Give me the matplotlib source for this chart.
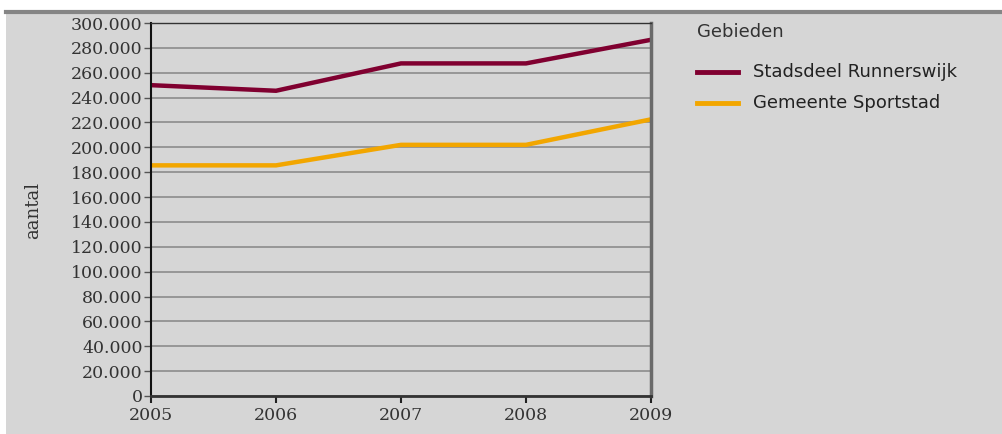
import matplotlib.pyplot as plt
from matplotlib.patches import Rectangle
from matplotlib.lines import Line2D
from matplotlib.ticker import FuncFormatter

# Data
years = [2005, 2006, 2007, 2008, 2009]
runnerswijk = [250000, 245500, 267500, 267500, 286500]
sportstad = [185500, 185500, 202000, 202000, 222500]
labels = ['Stadsdeel Runnerswijk', 'Gemeente Sportstad']
colors = ['#800030', '#F2A600']

W, H = 1002, 434
fig = plt.figure(figsize=(W / 100, H / 100), dpi=100, facecolor='white')

# gray panel behind everything
fig.add_artist(Rectangle((6 / W, 0), 1 - 6 / W, 1 - 11 / H,
                         transform=fig.transFigure, facecolor='#D6D6D6',
                         edgecolor='none', zorder=-10))
fig.add_artist(Line2D([6 / W, 1], [1 - 12 / H, 1 - 12 / H],
                      transform=fig.transFigure, color='#858585', lw=3, zorder=-9))

ax = fig.add_axes([151 / W, 38 / H, 500 / W, 373 / H])
ax.set_facecolor('#D6D6D6')

ax.plot(years, runnerswijk, color=colors[0], lw=3.2, solid_joinstyle='miter')
ax.plot(years, sportstad, color=colors[1], lw=3.2, solid_joinstyle='miter')

ax.set_xlim(2005, 2009)
ax.set_ylim(0, 300000)
ax.set_xticks(years)
ax.set_yticks(range(0, 300001, 20000))
ax.yaxis.set_major_formatter(FuncFormatter(
    lambda v, p: '0' if v == 0 else f'{int(v):,}'.replace(',', '.')))
ax.grid(axis='y', color='#8c8c8c', lw=1.2)
ax.set_axisbelow(True)

for lab in ax.get_xticklabels() + ax.get_yticklabels():
    lab.set_fontfamily('DejaVu Serif')
    lab.set_fontsize(12.5)
    lab.set_color('#333333')
ax.tick_params(axis='y', length=5, width=1, color='#555555', pad=1)
ax.tick_params(axis='x', length=5, width=1.5, color='#222222', pad=3)

ax.spines['left'].set_color('#111111')
ax.spines['left'].set_linewidth(1.5)
ax.spines['bottom'].set_color('#333333')
ax.spines['bottom'].set_linewidth(2)
ax.spines['top'].set_color('#333333')
ax.spines['top'].set_linewidth(1)
ax.spines['right'].set_color('#6a6a6a')
ax.spines['right'].set_linewidth(2.5)

fig.text(33 / W, 1 - 210 / H, 'aantal', rotation=90, ha='center', va='center',
         family='DejaVu Serif', fontsize=13, color='#333333')

# legend drawn by hand to match the layout
fig.text(697 / W, 1 - 32 / H, 'Gebieden', ha='left', va='center',
         family='DejaVu Sans', fontsize=13, color='#333333')
for i, (lab, c) in enumerate(zip(labels, colors)):
    yy = 1 - (72 + 31 * i) / H
    fig.add_artist(Line2D([697 / W, 738 / W], [yy, yy], transform=fig.transFigure,
                          color=c, lw=3.5))
    fig.text(753 / W, yy, lab, ha='left', va='center',
             family='DejaVu Sans', fontsize=13, color='#222222')

fig.savefig('out.png', dpi=100, facecolor=fig.get_facecolor())
